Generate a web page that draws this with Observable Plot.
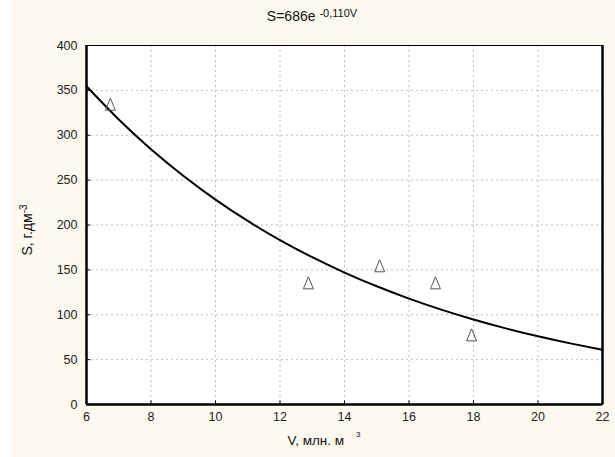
<!DOCTYPE html>
<html>
<head>
<meta charset="utf-8">
<script src="https://cdn.jsdelivr.net/npm/d3@7"></script>
<script src="https://cdn.jsdelivr.net/npm/@observablehq/plot@0.6"></script>
<style>
  html, body { margin: 0; padding: 0; background: #ffffff; }
  #chart svg { display: block; }
</style>
</head>
<body>
<div id="chart"></div>
<script>
// Observed points (V, S)
const pointV = [6.74, 12.88, 15.09, 16.82, 17.94];
const pointS = [334, 135, 154, 135, 77];

// Fitted curve S = 686 e^(-0.110 V), read at integer V
const curveV = [6, 7, 8, 9, 10, 11, 12, 13, 14, 15, 16, 17, 18, 19, 20, 21, 22];
const curveS = [354.6, 317.6, 284.5, 254.9, 228.3, 204.5, 183.2, 164.1, 147.0, 131.7, 118.0, 105.7, 94.7, 84.8, 76.0, 68.1, 61.0];

const xTicks = [6, 8, 10, 12, 14, 16, 18, 20, 22];
const yTicks = [0, 50, 100, 150, 200, 250, 300, 350, 400];

const points = pointV.map((v, i) => ({V: v, S: pointS[i]}));
const curve = curveV.map((v, i) => ({V: v, S: curveS[i]}));

const tri = {
  draw(context, size) {
    const w = 5, h = 6.5;
    context.moveTo(0, -h);
    context.lineTo(w, h - 1);
    context.lineTo(-w, h - 1);
    context.closePath();
  }
};

const font = "Liberation Sans, Arial, sans-serif";

const plot = Plot.plot({
  width: 615,
  height: 457,
  marginLeft: 86,
  marginRight: 13,
  marginTop: 45,
  marginBottom: 53,
  style: {fontFamily: font, fontSize: "12px", color: "#222", background: "linear-gradient(to right, #ffffff 12px, #fdf9ef 12px)"},
  x: {domain: [6, 22], ticks: xTicks},
  y: {domain: [0, 400], ticks: yTicks},
  marks: [
    Plot.rect([0], {x1: 6, x2: 22, y1: 0, y2: 400, fill: "white"}),
    Plot.ruleX(xTicks.slice(1, -1), {stroke: "#bdbdbd", strokeDasharray: "2,3", strokeWidth: 1}),
    Plot.ruleY(yTicks.slice(1, -1), {stroke: "#bdbdbd", strokeDasharray: "2,3", strokeWidth: 1}),
    Plot.ruleY(yTicks, {x1: 6, x2: 6.13, stroke: "black", strokeWidth: 1}),
    Plot.ruleX(xTicks, {y1: 0, y2: 4, stroke: "black", strokeWidth: 1}),
    Plot.axisX({ticks: xTicks, tickSize: 0, tickPadding: 8, label: null, fontSize: 12.5}),
    Plot.axisY({ticks: yTicks, tickSize: 0, tickPadding: 9, label: null, fontSize: 12.5}),
    Plot.line(curve, {x: "V", y: "S", curve: "natural", stroke: "black", strokeWidth: 2}),
    Plot.dot(points, {x: "V", y: "S", symbol: tri, r: 5, fill: "none", stroke: "#555", strokeWidth: 1}),
    Plot.frame({stroke: "black", strokeWidth: 1}),
    Plot.ruleX([6, 22], {y1: 0, y2: 400, stroke: "black", strokeWidth: 2.5}),
    Plot.ruleY([0], {x1: 6, x2: 22, stroke: "black", strokeWidth: 2.5})
  ]
});

document.getElementById("chart").appendChild(plot);

const svg = d3.select(plot);
// Title
const title = svg.append("text")
  .attr("x", 312).attr("y", 21)
  .attr("text-anchor", "middle")
  .attr("font-family", font).attr("font-size", 14).attr("fill", "#111");
title.append("tspan").text("S=686e ");
title.append("tspan").attr("font-size", 11).attr("dy", -4).text("-0,110V");

// X label
const xl = svg.append("text")
  .attr("x", 324).attr("y", 445)
  .attr("text-anchor", "middle")
  .attr("font-family", font).attr("font-size", 13.5).attr("fill", "#111");
xl.append("tspan").text("V, млн. м");
xl.append("tspan").attr("font-size", 8).attr("dx", 12).attr("dy", -8).text("3");

// Y label
const yl = svg.append("text")
  .attr("transform", "translate(32,230) rotate(-90)")
  .attr("text-anchor", "middle")
  .attr("font-family", font).attr("font-size", 14).attr("fill", "#111");
yl.append("tspan").text("S, г.дм");
yl.append("tspan").attr("font-size", 10).attr("dy", -5).text("-3");
</script>
</body>
</html>
